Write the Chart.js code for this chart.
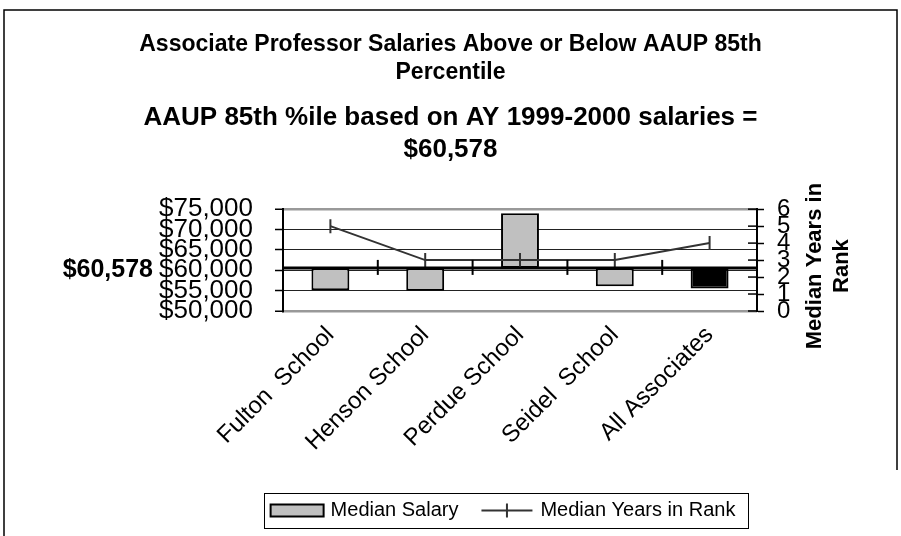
<!DOCTYPE html>
<html><head><meta charset="utf-8">
<script src="https://cdn.jsdelivr.net/npm/chart.js@4/dist/chart.umd.min.js"></script>
<style>html,body{margin:0;padding:0;background:#fff}#wrap{width:901px;height:536px;position:relative}</style>
</head><body><div id="wrap"><canvas id="c" width="901" height="536"></canvas></div>
<script>
// ---- data ----
const categories = ['Fulton  School', 'Henson School', 'Perdue School', 'Seidel  School', 'All Associates'];
const medianSalary = [55100, 55000, 74000, 56100, 55500];
const medianYears = [5, 3, 3, 3, 4];
const salaryTicks = [50000, 55000, 60000, 65000, 70000, 75000];
const yearTicks = [0, 1, 2, 3, 4, 5, 6];
const aaup85 = 60578;
const titleLines = ['Associate Professor Salaries Above or Below AAUP 85th', 'Percentile'];
const subtitleLines = ['AAUP 85th %ile based on AY 1999-2000 salaries =', '$60,578'];
const rightTitleLines = ['Median Years in', 'Rank'];
const seriesNames = ['Median Salary', 'Median Years in Rank'];

const FONT = "'Liberation Sans', Arial, Helvetica, sans-serif";
const fmt = v => '$' + Number(v).toLocaleString('en-US');

const decor = {
  id: 'decor',
  beforeDraw(chart) {
    const ctx = chart.ctx;
    ctx.save();
    ctx.fillStyle = '#fff';
    ctx.fillRect(0, 0, chart.width, chart.height);
    ctx.strokeStyle = '#000';
    ctx.lineWidth = 1.5;
    ctx.beginPath();
    ctx.moveTo(4, chart.height);
    ctx.lineTo(4, 10);
    ctx.lineTo(897, 10);
    ctx.lineTo(897, 470);
    ctx.stroke();
    ctx.restore();
  },
  afterDatasetsDraw(chart) {
    const ctx = chart.ctx;
    const y = chart.scales.y, x = chart.scales.x, y1 = chart.scales.y1;
    const ca = chart.chartArea;
    const by = y.getPixelForValue(aaup85);
    ctx.save();
    // baseline at the AAUP 85th percentile
    ctx.strokeStyle = '#000';
    ctx.lineWidth = 3;
    ctx.beginPath();
    ctx.moveTo(ca.left, by);
    ctx.lineTo(ca.right, by);
    ctx.stroke();
    // category boundary tick marks on the baseline
    const half = (x.getPixelForValue(1) - x.getPixelForValue(0)) / 2;
    ctx.lineWidth = 2;
    for (let i = 0; i <= categories.length; i++) {
      const px = x.getPixelForValue(0) - half + i * 2 * half;
      ctx.beginPath();
      ctx.moveTo(px, by - 8);
      ctx.lineTo(px, by + 7);
      ctx.stroke();
    }
    // inner half of right-axis tick marks
    ctx.lineWidth = 1.5;
    y1.ticks.forEach(t => {
      const py = y1.getPixelForValue(t.value);
      ctx.beginPath();
      ctx.moveTo(ca.right - 9, py);
      ctx.lineTo(ca.right, py);
      ctx.stroke();
    });
    ctx.restore();
  },
  afterDraw(chart) {
    const ctx = chart.ctx;
    const y = chart.scales.y;
    const ca = chart.chartArea;
    ctx.save();
    ctx.fillStyle = '#000';
    // baseline value label
    ctx.font = 'bold 25px ' + FONT;
    ctx.textAlign = 'right';
    ctx.textBaseline = 'middle';
    ctx.fillText(fmt(aaup85), 153, y.getPixelForValue(aaup85) + 2);
    // right axis title, reading bottom to top
    ctx.save();
    ctx.translate(828, (ca.top + ca.bottom) / 2 + 6);
    ctx.rotate(-Math.PI / 2);
    ctx.font = 'bold 22px ' + FONT;
    ctx.textAlign = 'center';
    ctx.textBaseline = 'middle';
    rightTitleLines.forEach((l, i) => ctx.fillText(l, 0, -13.5 + i * 27));
    ctx.restore();
    // legend
    const barLabel = seriesNames[0], lineLabel = seriesNames[1];
    ctx.font = '20px ' + FONT;
    const w0 = ctx.measureText(barLabel).width;
    const w1 = ctx.measureText(lineLabel).width;
    const sw0 = 53, sw1 = 51, g0 = 7, g1 = 8, gap = 23;
    const total = sw0 + g0 + w0 + gap + sw1 + g1 + w1;
    const cx = 503, cy = 510.5;
    let lx = cx - total / 2;
    ctx.lineWidth = 1;
    ctx.strokeStyle = '#000';
    ctx.strokeRect(Math.round(lx - 7) + 0.5, 493.5, Math.round(total + 19), 35);
    // bar swatch
    ctx.fillStyle = '#C0C0C0';
    ctx.fillRect(lx, cy - 6, sw0, 12);
    ctx.lineWidth = 2;
    ctx.strokeRect(lx, cy - 6, sw0, 12);
    ctx.fillStyle = '#000';
    ctx.textAlign = 'left';
    ctx.textBaseline = 'middle';
    lx += sw0 + g0;
    ctx.fillText(barLabel, lx, cy);
    lx += w0 + gap;
    // line swatch
    ctx.strokeStyle = '#333';
    ctx.lineWidth = 2;
    ctx.beginPath();
    ctx.moveTo(lx, cy); ctx.lineTo(lx + sw1, cy);
    ctx.moveTo(lx + sw1 / 2, cy - 7); ctx.lineTo(lx + sw1 / 2, cy + 7);
    ctx.stroke();
    lx += sw1 + g1;
    ctx.fillText(lineLabel, lx, cy);
    ctx.restore();
  }
};

new Chart(document.getElementById('c'), {
  data: {
    labels: categories,
    datasets: [
      {
        type: 'line',
        label: seriesNames[1],
        data: medianYears,
        yAxisID: 'y1',
        borderColor: '#333',
        borderWidth: 2,
        pointStyle: 'line',
        rotation: 90,
        pointRadius: 7,
        pointHoverRadius: 7,
        pointBorderWidth: 2,
        pointBorderColor: '#333',
        tension: 0,
        order: 0
      },
      {
        type: 'bar',
        label: seriesNames[0],
        data: medianSalary,
        yAxisID: 'y',
        base: aaup85,
        backgroundColor: ['#C0C0C0', '#C0C0C0', '#C0C0C0', '#C0C0C0', '#000000'],
        borderColor: '#000',
        borderWidth: 2,
        borderSkipped: false,
        categoryPercentage: 1,
        barPercentage: 0.4,
        order: 1
      }
    ]
  },
  options: {
    responsive: false,
    animation: false,
    devicePixelRatio: 1,
    layout: { padding: 0 },
    plugins: {
      legend: { display: false },
      tooltip: { enabled: false },
      title: {
        display: true,
        text: titleLines,
        color: '#000',
        font: { family: FONT, size: 23, weight: 'bold', lineHeight: 1.2 },
        padding: { top: 31, bottom: 8 }
      },
      subtitle: {
        display: true,
        text: subtitleLines,
        color: '#000',
        font: { family: FONT, size: 26, weight: 'bold', lineHeight: 1.23 },
        padding: { top: 8, bottom: 43 }
      }
    },
    scales: {
      x: {
        type: 'category',
        offset: true,
        grid: { display: false, drawTicks: false },
        border: { display: false },
        ticks: {
          color: '#000',
          font: { family: FONT, size: 24 },
          minRotation: 45,
          maxRotation: 45,
          autoSkip: false,
          padding: 10
        },
        afterFit(s) { s.height = 225; }
      },
      y: {
        type: 'linear',
        position: 'left',
        min: salaryTicks[0],
        max: salaryTicks[salaryTicks.length - 1],
        afterBuildTicks(s) { s.ticks = salaryTicks.map(v => ({ value: v })); },
        ticks: {
          color: '#000',
          font: { family: FONT, size: 26, lineHeight: 1 },
          autoSkip: false,
          padding: 22,
          callback: v => fmt(v)
        },
        grid: {
          color: c => (c.tick && (c.tick.value === salaryTicks[0] || c.tick.value === salaryTicks[salaryTicks.length - 1])) ? '#999' : '#222',
          lineWidth: c => (c.tick && (c.tick.value === salaryTicks[0] || c.tick.value === salaryTicks[salaryTicks.length - 1])) ? 2.5 : 1,
          tickColor: '#000',
          tickWidth: 1.5,
          tickLength: 8
        },
        border: { display: true, color: '#000', width: 2 },
        afterFit(s) { s.width = 283; }
      },
      y1: {
        type: 'linear',
        position: 'right',
        min: yearTicks[0],
        max: yearTicks[yearTicks.length - 1],
        afterBuildTicks(s) { s.ticks = yearTicks.map(v => ({ value: v })); },
        ticks: {
          color: '#000',
          font: { family: FONT, size: 24, lineHeight: 1 },
          autoSkip: false,
          padding: 13
        },
        grid: {
          drawOnChartArea: false,
          color: '#000',
          tickColor: '#000',
          tickWidth: 1.5,
          tickLength: 7
        },
        border: { display: true, color: '#000', width: 2 },
        afterFit(s) { s.width = 144; }
      }
    }
  },
  plugins: [decor]
});
</script>
</body></html>
